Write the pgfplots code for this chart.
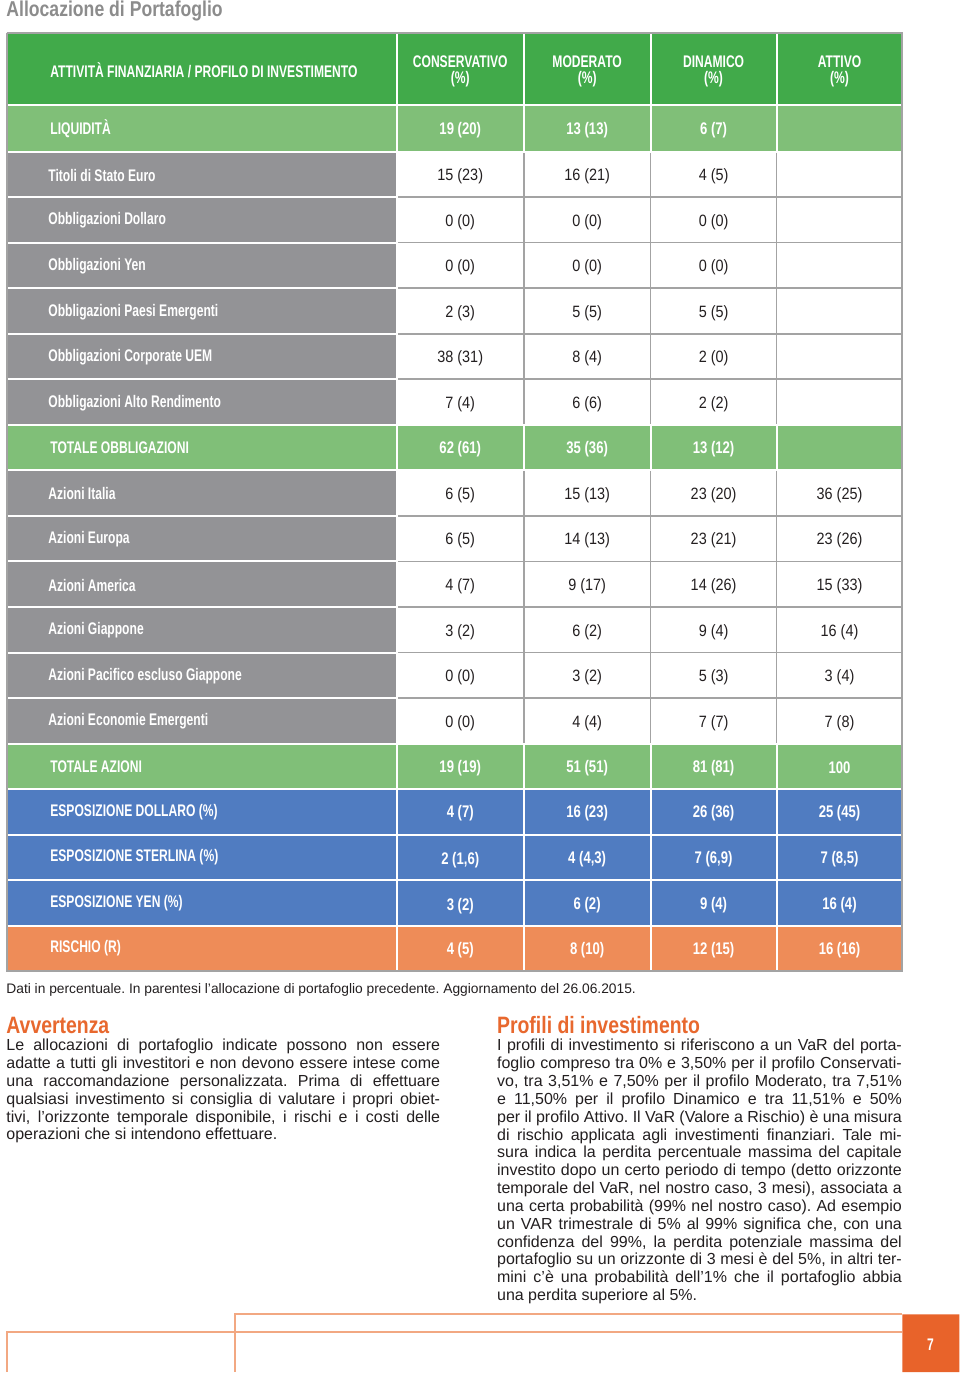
\documentclass[border=0pt]{standalone}
\usepackage{fontspec}
\setmainfont{Liberation Sans}
\newfontfamily\tabfont[FakeStretch=0.72]{Liberation Sans}
\newfontfamily\valfont[FakeStretch=0.78]{Liberation Sans}
\newfontfamily\headfont[FakeStretch=0.82]{Liberation Sans}
\newfontfamily\numfont[FakeStretch=0.88]{Liberation Sans}
\usepackage{pgfplots}
\usepackage{pgfplotstable}
\pgfplotsset{compat=1.18}
\frenchspacing

\definecolor{hdrgreen}{HTML}{41AA4A}
\definecolor{ltgreen}{HTML}{80BF78}
\definecolor{lblgray}{HTML}{939396}
\definecolor{rowblue}{HTML}{507CC1}
\definecolor{roworange}{HTML}{EE8C58}
\definecolor{gridgray}{HTML}{A3A3A3}
\definecolor{titlegray}{HTML}{8C8C8C}
\definecolor{headorange}{HTML}{E8682E}
\definecolor{pageorange}{HTML}{E8632A}
\definecolor{lineorange}{HTML}{F2A882}
\definecolor{ink}{HTML}{231F20}

% column headers (two lines each)
\pgfplotstableread[col sep=semicolon]{
x;y;t
460.5;62;CONSERVATIVO
460.5;79;(\%)
587.5;62;MODERATO
587.5;79;(\%)
714;62;DINAMICO
714;79;(\%)
840;62;ATTIVO
840;79;(\%)
}\headcols

% first column, coloured rows
\pgfplotstableread[col sep=semicolon]{
x;y;t
50;70;ATTIVITÀ FINANZIARIA / PROFILO DI INVESTIMENTO
50;128.8;LIQUIDITÀ
50;447.8;TOTALE OBBLIGAZIONI
50;766.9;TOTALE AZIONI
50;812.5;ESPOSIZIONE DOLLARO (\%)
50;858.1;ESPOSIZIONE STERLINA (\%)
50;903.7;ESPOSIZIONE YEN (\%)
50;949.2;RISCHIO (R)
}\boldlabels

% first column, grey rows
\pgfplotstableread[col sep=semicolon]{
x;y;t
48;174.4;Titoli di Stato Euro
48;219.9;Obbligazioni Dollaro
48;265.5;Obbligazioni Yen
48;311.1;Obbligazioni Paesi Emergenti
48;356.7;Obbligazioni Corporate UEM
48;402.3;Obbligazioni Alto Rendimento
48;493.4;Azioni Italia
48;539.0;Azioni Europa
48;584.6;Azioni America
48;630.2;Azioni Giappone
48;675.8;Azioni Pacifico escluso Giappone
48;721.3;Azioni Economie Emergenti
}\greylabels

% values in coloured rows: current (previous)
\pgfplotstableread[col sep=semicolon]{
x;y;t
460.5;128.8;19 (20)
587.5;128.8;13 (13)
714;128.8;6 (7)
460.5;447.8;62 (61)
587.5;447.8;35 (36)
714;447.8;13 (12)
460.5;766.9;19 (19)
587.5;766.9;51 (51)
714;766.9;81 (81)
840;766.9;100
460.5;812.5;4 (7)
587.5;812.5;16 (23)
714;812.5;26 (36)
840;812.5;25 (45)
460.5;859.5;2 (1,6)
587.5;858.1;4 (4,3)
714;858.1;7 (6,9)
840;858.1;7 (8,5)
460.5;905;3 (2)
587.5;903.7;6 (2)
714;903.7;9 (4)
840;903.7;16 (4)
460.5;949.2;4 (5)
587.5;949.2;8 (10)
714;949.2;12 (15)
840;949.2;16 (16)
}\boldvals

% values in white rows: current (previous)
\pgfplotstableread[col sep=semicolon]{
x;y;t
460.5;174.4;15 (23)
587.5;174.4;16 (21)
714;174.4;4 (5)
460.5;219.9;0 (0)
587.5;219.9;0 (0)
714;219.9;0 (0)
460.5;265.5;0 (0)
587.5;265.5;0 (0)
714;265.5;0 (0)
460.5;311.1;2 (3)
587.5;311.1;5 (5)
714;311.1;5 (5)
460.5;356.7;38 (31)
587.5;356.7;8 (4)
714;356.7;2 (0)
460.5;402.3;7 (4)
587.5;402.3;6 (6)
714;402.3;2 (2)
460.5;493.4;6 (5)
587.5;493.4;15 (13)
714;493.4;23 (20)
840;493.4;36 (25)
460.5;539.0;6 (5)
587.5;539.0;14 (13)
714;539.0;23 (21)
840;539.0;23 (26)
460.5;584.6;4 (7)
587.5;584.6;9 (17)
714;584.6;14 (26)
840;584.6;15 (33)
460.5;630.2;3 (2)
587.5;630.2;6 (2)
714;630.2;9 (4)
840;630.2;16 (4)
460.5;675.8;0 (0)
587.5;675.8;3 (2)
714;675.8;5 (3)
840;675.8;3 (4)
460.5;721.3;0 (0)
587.5;721.3;4 (4)
714;721.3;7 (7)
840;721.3;7 (8)
}\plainvals

\pgfplotsset{
  celltext/.style={only marks, mark=none, nodes near coords,
    point meta=explicit symbolic,
    nodes near coords style={anchor=#1, inner sep=0pt}},
  cell/.style={draw=none, fill=#1},
}

\begin{document}
\begin{tikzpicture}
\begin{axis}[
  hide axis, scale only axis,
  width=480pt, height=686.5pt,
  xmin=0, xmax=960, ymin=0, ymax=1373,
  y dir=reverse, clip=false,
]
% page
\addplot[cell=white] coordinates {(0,0) (960,0) (960,1373) (0,1373) (0,0)};

% table backgrounds
\addplot[cell=hdrgreen] coordinates {(7,33) (903,33) (903,105.5) (7,105.5) (7,33)};
\addplot[cell=ltgreen] coordinates {(7,105.5) (903,105.5) (903,151.6) (7,151.6) (7,105.5)};
\addplot[cell=ltgreen] coordinates {(7,425.1) (903,425.1) (903,470.6) (7,470.6) (7,425.1)};
\addplot[cell=ltgreen] coordinates {(7,744.1) (903,744.1) (903,789.7) (7,789.7) (7,744.1)};
\addplot[cell=lblgray] coordinates {(7,151.6) (397,151.6) (397,425.1) (7,425.1) (7,151.6)};
\addplot[cell=lblgray] coordinates {(7,470.6) (397,470.6) (397,744.1) (7,744.1) (7,470.6)};
\addplot[cell=rowblue] coordinates {(7,789.7) (903,789.7) (903,926.4) (7,926.4) (7,789.7)};
\addplot[cell=roworange] coordinates {(7,926.4) (903,926.4) (903,972) (7,972) (7,926.4)};

% grey grid in the white cells
\pgfplotsinvokeforeach{197.2,242.7,288.3,333.9,379.5,516.2,561.8,607.4,653.0,698.5}{
  \addplot[gridgray, line width=0.8pt] coordinates {(397,#1) (903,#1)};
}
\pgfplotsinvokeforeach{524,651,777}{
  \addplot[gridgray, line width=0.8pt] coordinates {(#1,151.6) (#1,425.1)};
  \addplot[gridgray, line width=0.8pt] coordinates {(#1,470.6) (#1,744.1)};
}
% white separators
\pgfplotsinvokeforeach{197.2,242.7,288.3,333.9,379.5,516.2,561.8,607.4,653.0,698.5}{
  \addplot[white, line width=1pt] coordinates {(7,#1) (397,#1)};
}
\pgfplotsinvokeforeach{105.5,151.6,425.1,470.6,744.1,789.7,835.3,880.9,926.4}{
  \addplot[white, line width=1pt] coordinates {(7,#1) (903,#1)};
}
\addplot[white, line width=1pt] coordinates {(397,33) (397,972)};
\pgfplotsinvokeforeach{524,651,777}{
  \addplot[white, line width=1pt] coordinates {(#1,33) (#1,151.6)};
  \addplot[white, line width=1pt] coordinates {(#1,425.1) (#1,470.6)};
  \addplot[white, line width=1pt] coordinates {(#1,744.1) (#1,972)};
}
% outer border
\addplot[gridgray, line width=1pt] coordinates {(7,33) (903,33) (903,972) (7,972) (7,33)};

% cell texts
\addplot[celltext=center, nodes near coords style={font=\tabfont\bfseries\fontsize{8.4}{9}\selectfont, text=white}]
  table[x=x, y=y, meta=t] {\headcols};
\addplot[celltext=west, nodes near coords style={font=\tabfont\bfseries\fontsize{8.4}{9}\selectfont, text=white}]
  table[x=x, y=y, meta=t] {\boldlabels};
\addplot[celltext=west, nodes near coords style={font=\tabfont\bfseries\fontsize{8.4}{9}\selectfont, text=white, yshift=-0.4pt}]
  table[x=x, y=y, meta=t] {\greylabels};
\addplot[celltext=center, nodes near coords style={font=\valfont\bfseries\fontsize{8.4}{9}\selectfont, text=white, yshift=-0.8pt}]
  table[x=x, y=y, meta=t] {\boldvals};
\addplot[celltext=center, nodes near coords style={font=\numfont\fontsize{8.2}{9}\selectfont, text=ink, yshift=-1pt}]
  table[x=x, y=y, meta=t] {\plainvals};

% title and notes
\node[anchor=base west, inner sep=0pt, text=titlegray, font=\headfont\bfseries\fontsize{10.75}{12}\selectfont]
  at (axis cs:6,17) {Allocazione di Portafoglio};
\node[anchor=base west, inner sep=0pt, text=ink, font=\fontsize{6.9}{8}\selectfont]
  at (axis cs:6,994) {Dati in percentuale. In parentesi l’allocazione di portafoglio precedente. Aggiornamento del 26.06.2015.};

\node[anchor=base west, inner sep=0pt, text=headorange, font=\headfont\bfseries\fontsize{11.85}{13}\selectfont]
  at (axis cs:6,1034) {Avvertenza};
\node[anchor=base west, inner sep=0pt, text=headorange, font=\headfont\bfseries\fontsize{11.85}{13}\selectfont]
  at (axis cs:497,1034) {Profili di investimento};

\node[anchor=base west, inner sep=0pt, text width=217pt, align=justify, text=ink,
  font=\fontsize{8}{8.9}\selectfont]
  at (axis cs:6,1051.5) {Le allocazioni di portafoglio indicate possono non essere\linebreak
adatte a tutti gli investitori e non devono essere intese come\linebreak
una raccomandazione personalizzata. Prima di effettuare\linebreak
qualsiasi investimento si consiglia di valutare i propri obiet-\linebreak
tivi, l’orizzonte temporale disponibile, i rischi e i costi delle\linebreak
operazioni che si intendono effettuare.};

\node[anchor=base west, inner sep=0pt, text width=202.5pt, align=justify, text=ink,
  font=\fontsize{8}{8.92}\selectfont]
  at (axis cs:497,1051.5) {I profili di investimento si riferiscono a un VaR del porta-\linebreak
foglio compreso tra 0\% e 3,50\% per il profilo Conservati-\linebreak
vo, tra 3,51\% e 7,50\% per il profilo Moderato, tra 7,51\%\linebreak
e 11,50\% per il profilo Dinamico e tra 11,51\% e 50\%\linebreak
per il profilo Attivo. Il VaR (Valore a Rischio) è una misura\linebreak
di rischio applicata agli investimenti finanziari. Tale mi-\linebreak
sura indica la perdita percentuale massima del capitale\linebreak
investito dopo un certo periodo di tempo (detto orizzonte\linebreak
temporale del VaR, nel nostro caso, 3 mesi), associata a\linebreak
una certa probabilità (99\% nel nostro caso). Ad esempio\linebreak
un VAR trimestrale di 5\% al 99\% significa che, con una\linebreak
confidenza del 99\%, la perdita potenziale massima del\linebreak
portafoglio su un orizzonte di 3 mesi è del 5\%, in altri ter-\linebreak
mini c’è una probabilità dell’1\% che il portafoglio abbia\linebreak
una perdita superiore al 5\%.};

% page footer
\addplot[lineorange, line width=0.8pt] coordinates {(235,1373) (235,1315) (903,1315)};
\addplot[lineorange, line width=0.8pt] coordinates {(7,1373) (7,1333) (903,1333)};
\addplot[cell=pageorange] coordinates {(903,1315) (960,1315) (960,1373) (903,1373) (903,1315)};
\node[inner sep=0pt, text=white, font=\tabfont\bfseries\fontsize{8.4}{9}\selectfont]
  at (axis cs:931,1345) {7};
\end{axis}
\end{tikzpicture}
\end{document}
